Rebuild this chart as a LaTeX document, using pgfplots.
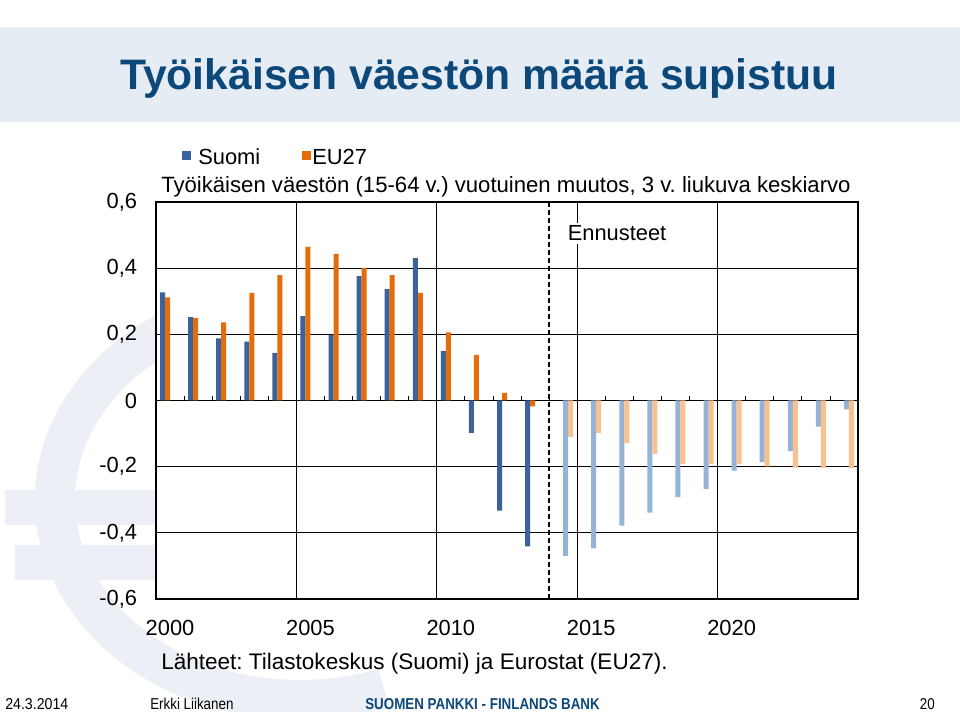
\documentclass[border=0pt]{standalone}
\usepackage{pgfplots}
\pgfplotsset{compat=1.18}
\usepackage{fontspec}
\setmainfont{Liberation Sans}
\frenchspacing
\definecolor{fi}{RGB}{59,98,155}
\definecolor{eu}{RGB}{228,108,10}
\definecolor{fil}{RGB}{149,179,215}
\definecolor{eul}{RGB}{250,192,144}
\definecolor{band}{RGB}{230,236,243}
\definecolor{titleblue}{RGB}{12,72,122}
\definecolor{wm}{RGB}{236,240,246}
\begin{document}
\begin{tikzpicture}
\begin{scope}[x=0.75pt,y=0.75pt]
\useasboundingbox (0,0) rectangle (960,712);
\fill[white] (0,0) rectangle (960,712);
\fill[band] (0,590) rectangle (960,685);
% faint euro watermark
\draw[wm, line width=30pt] (300,212) ++(110:245 and 200) arc[start angle=110, end angle=290, x radius=245, y radius=200];
\fill[wm] (5,187) rectangle (200,222);
\fill[wm] (15,132) rectangle (200,167);
\node[anchor=base west, inner sep=0, text=titleblue, font=\fontsize{32}{36}\selectfont\bfseries] at (120,622) {Työikäisen väestön määrä supistuu};
\fill[fi] (182,552) rectangle (191,561);
\node[anchor=base west, inner sep=0, font=\fontsize{16.4}{19}\selectfont] at (198,547) {Suomi};
\fill[eu] (302,552) rectangle (311,561);
\node[anchor=base west, inner sep=0, font=\fontsize{16.4}{19}\selectfont] at (312,547) {EU27};
\node[anchor=base west, inner sep=0, font=\fontsize{16.6}{19}\selectfont] at (161,519) {Työikäisen väestön (15-64 v.) vuotuinen muutos, 3 v. liukuva keskiarvo};
\node[anchor=base west, inner sep=0, font=\fontsize{16.9}{19}\selectfont] at (161,42) {Lähteet: Tilastokeskus (Suomi) ja Eurostat (EU27).};
\node[anchor=base west, inner sep=0, font=\fontsize{11.8}{13}\selectfont] at (5,2) {\scalebox{0.9}[1]{24.3.2014}};
\node[anchor=base west, inner sep=0, font=\fontsize{11.8}{13}\selectfont] at (150,2) {\scalebox{0.85}[1]{Erkki Liikanen}};
\node[anchor=base west, inner sep=0, text=titleblue, font=\fontsize{11.8}{13}\selectfont\bfseries] at (365,2) {\scalebox{0.85}[1]{SUOMEN PANKKI - FINLANDS BANK}};
\node[anchor=base east, inner sep=0, font=\fontsize{11.8}{13}\selectfont] at (935,2) {\scalebox{0.85}[1]{20}};
\end{scope}
\begin{axis}[
  at={(117pt,84.75pt)}, anchor=south west,
  scale only axis, width=526.5pt, height=297.75pt,
  xmin=-0.5, xmax=24.5, ymin=-0.6, ymax=0.6,
  axis background/.style={fill=white},
  ytick={-0.6,-0.4,-0.2,0,0.2,0.4,0.6},
  yticklabels={{-0,6},{-0,4},{-0,2},0,{0,2},{0,4},{0,6}},
  xtick={0,5,10,15,20},
  xticklabels={2000,2005,2010,2015,2020},
  extra x ticks={4.5,9.5,14.5,19.5},
  extra x tick labels={},
  extra x tick style={grid=major, major tick length=0pt},
  ymajorgrids,
  grid style={black, line width=0.7pt},
  axis line style={black, line width=0.8pt},
  major tick length=0pt,
  ticklabel style={font=\fontsize{16.4}{19}\selectfont},
  yticklabel style={inner sep=0pt, anchor=east, xshift=-14pt},
  xticklabel style={inner sep=0pt, anchor=north, yshift=-15.5pt},
]
\addplot[ybar, bar width=0.178, bar shift=-0.267, fill=fi, draw=none] coordinates {
(0,0.327) (1,0.252) (2,0.188) (3,0.178) (4,0.144) (5,0.255) (6,0.198) (7,0.376)
(8,0.337) (9,0.430) (10,0.150) (11,-0.098) (12,-0.333) (13,-0.441)};
\addplot[ybar, bar width=0.178, bar shift=-0.089, fill=eu, draw=none] coordinates {
(0,0.312) (1,0.249) (2,0.236) (3,0.325) (4,0.379) (5,0.464) (6,0.443) (7,0.401)
(8,0.379) (9,0.325) (10,0.206) (11,0.138) (12,0.023) (13,-0.018)};
\addplot[ybar, bar width=0.178, bar shift=0.089, fill=fil, draw=none] coordinates {
(14,-0.470) (15,-0.447) (16,-0.378) (17,-0.339) (18,-0.292) (19,-0.267)
(20,-0.212) (21,-0.186) (22,-0.152) (23,-0.079) (24,-0.027)};
\addplot[ybar, bar width=0.178, bar shift=0.267, fill=eul, draw=none] coordinates {
(14,-0.110) (15,-0.098) (16,-0.129) (17,-0.161) (18,-0.192) (19,-0.192)
(20,-0.192) (21,-0.199) (22,-0.203) (23,-0.204) (24,-0.204)};
\pgfplotsinvokeforeach{0.5,1.5,...,23.5}{
  \draw[black, line width=0.6pt] (axis cs:#1,0) -- ([yshift=3pt]axis cs:#1,0);
}
\draw[black, line width=1.5pt, dash pattern=on 4pt off 2pt] (axis cs:13.5,-0.6) -- (axis cs:13.5,0.6);
\node[fill=white, inner sep=2pt, font=\fontsize{16.4}{19}\selectfont] at (axis cs:15.92,0.505) {Ennusteet};
\end{axis}
\end{tikzpicture}
\end{document}
